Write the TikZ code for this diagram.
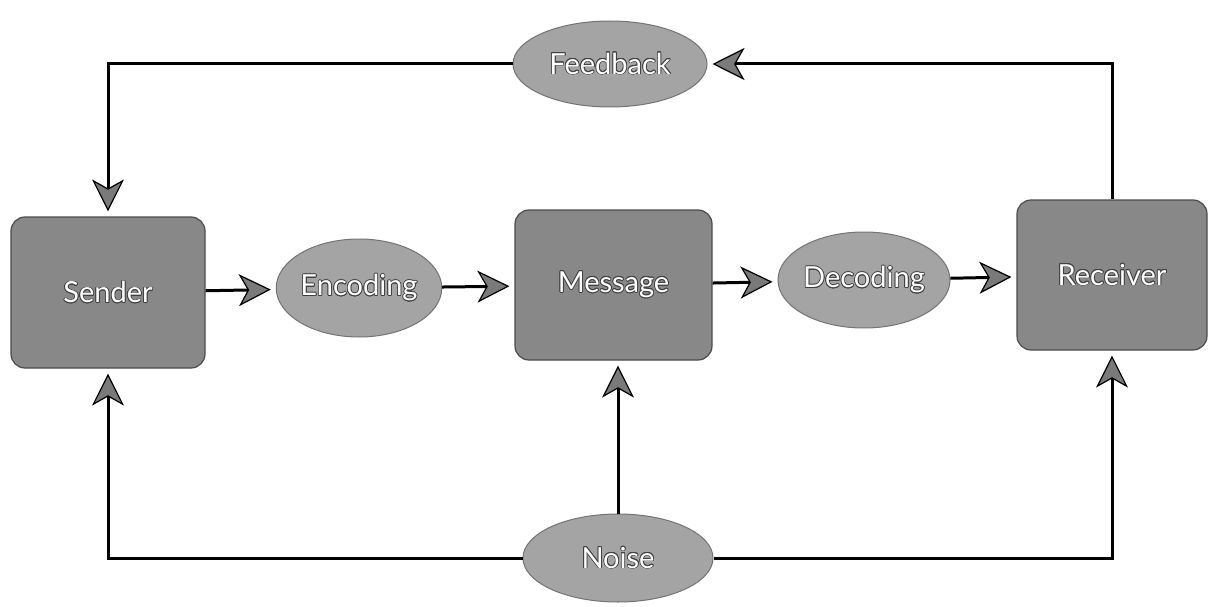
\documentclass[tikz,border=0pt]{standalone}
\usepackage{fontspec}
\setmainfont{Lato}
\usepackage{contour}
\contourlength{0.7pt}
\usetikzlibrary{arrows.meta,shapes.geometric}
\definecolor{boxgray}{HTML}{888888}
\definecolor{ellgray}{HTML}{A4A4A4}
\definecolor{tipgray}{HTML}{7A7A7A}
\newcommand{\lbl}[1]{\contour{black!75}{#1}}
\tikzset{
  boxnode/.style={draw=black!70, line width=1.2pt, fill=boxgray, rounded corners=14pt,
    inner sep=0pt, font=\fontsize{29}{32}\selectfont, text=white},
  ellnode/.style={ellipse, draw=black!55, line width=1pt, fill=ellgray,
    inner sep=0pt, font=\fontsize{29}{32}\selectfont, text=white},
  flow/.style={draw=black, line width=3pt,
    -{Stealth[length=32pt, width=32pt, inset=9pt, fill=tipgray, line width=1.2pt]},
    shorten >=5pt}
}
\begin{document}
\begin{tikzpicture}[x=1pt,y=-1pt]
\useasboundingbox (0,0) rectangle (1212,607);
% boxes
\node[boxnode, minimum width=194pt, minimum height=151pt] (sender) at (108,292.5) {\lbl{Sender}};
\node[boxnode, minimum width=197pt, minimum height=150pt] (message) at (613.5,285) {\lbl{Message}};
\node[boxnode, minimum width=190pt, minimum height=150pt] (receiver) at (1112,275) {\lbl{Receiver}};
% ellipses
\node[ellnode, minimum width=155pt, minimum height=98pt] (encoding) at (359,288) {\lbl{Encoding}};
\node[ellnode, minimum width=155pt, minimum height=96pt] (decoding) at (864,280) {\lbl{Decoding}};
\node[ellnode, minimum width=194pt, minimum height=86pt] (feedback) at (610,64) {\lbl{Feedback}};
\node[ellnode, minimum width=190pt, minimum height=88pt] (noise) at (618,558) {\lbl{Noise}};
% main flow
\draw[flow] (sender) -- (encoding);
\draw[flow] (encoding) -- (message);
\draw[flow] (message) -- (decoding);
\draw[flow] (decoding) -- (receiver);
% feedback loop
\draw[flow] (receiver.north) |- (feedback.east);
\draw[flow] (feedback.west) -| (sender.north);
% noise
\draw[flow] (noise.west) -| (sender.south);
\draw[flow] (noise.north) -- (noise.north |- message.south);
\draw[flow] (noise.east) -| (receiver.south);
\end{tikzpicture}
\end{document}
